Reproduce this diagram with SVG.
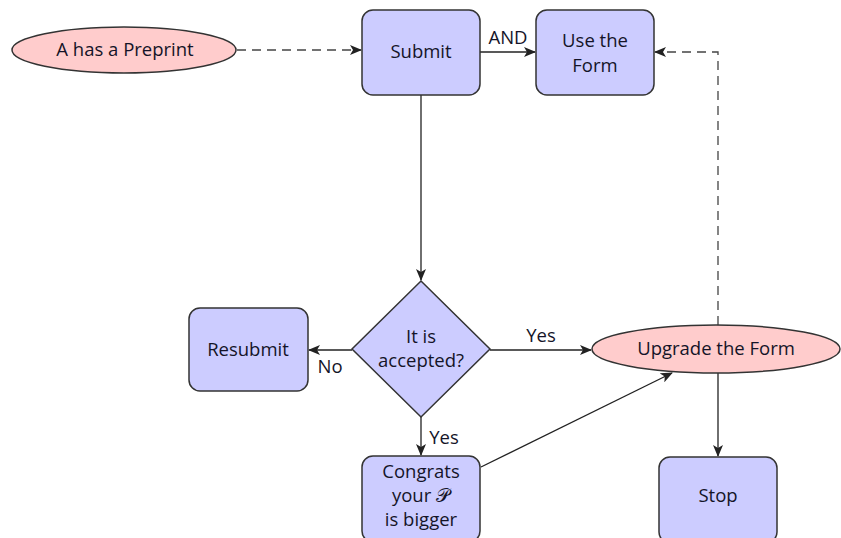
<svg xmlns="http://www.w3.org/2000/svg" width="841" height="538" viewBox="0 0 841 538">
<style>
text{font-family:"Open Sans","Noto Sans","DejaVu Sans",sans-serif;font-size:18.5px;fill:#141428;text-anchor:middle}
.box{fill:#ccccff;stroke:#333;stroke-width:1.5}
.ell{fill:#ffcccc;stroke:#333;stroke-width:1.5}
.c{fill:none;stroke:#222;stroke-width:1.3}
.d{fill:none;stroke:#444;stroke-width:1.3;stroke-dasharray:9 6}
</style>
<defs>
<marker id="a" viewBox="0 0 12 10" refX="11" refY="5" markerWidth="12" markerHeight="10" markerUnits="userSpaceOnUse" orient="auto">
<path d="M0,0 L12,5 L0,10 L3,5 Z" fill="#222"/>
</marker>
</defs>
<g id="connectors">
<path class="d" d="M237,50 H361" marker-end="url(#a)"/>
<path class="c" d="M480,52 H535" marker-end="url(#a)"/>
<path class="c" d="M421,95 V280" marker-end="url(#a)"/>
<path class="c" d="M352,350 H309" marker-end="url(#a)"/>
<path class="c" d="M490,350 H591" marker-end="url(#a)"/>
<path class="c" d="M421,417 V455" marker-end="url(#a)"/>
<path class="c" d="M481,467 L672,373" marker-end="url(#a)"/>
<path class="d" d="M718,325 V52 H655" marker-end="url(#a)"/>
<path class="c" d="M718,373 V456" marker-end="url(#a)"/>
<text x="508" y="44">AND</text>
<text x="330" y="373">No</text>
<text x="541" y="342">Yes</text>
<text x="444" y="444">Yes</text>
</g>
<g id="preprint">
<ellipse class="ell" cx="124" cy="50" rx="112" ry="23"/>
<text x="125" y="56">A has a Preprint</text>
</g>
<g id="submit">
<rect class="box" x="362" y="10" width="118" height="85" rx="11"/>
<text x="421" y="58">Submit</text>
</g>
<g id="useform">
<rect class="box" x="536" y="10" width="118" height="85" rx="11"/>
<text x="595" y="47">Use the</text>
<text x="595" y="72">Form</text>
</g>
<g id="decision">
<path class="box" d="M421,281 L490,349 L421,417 L352,349 Z"/>
<text x="421" y="343">It is</text>
<text x="421" y="367">accepted?</text>
</g>
<g id="resubmit">
<rect class="box" x="189" y="308" width="119" height="83" rx="11"/>
<text x="248" y="356">Resubmit</text>
</g>
<g id="upgrade">
<ellipse class="ell" cx="716" cy="349" rx="124" ry="24"/>
<text x="716" y="355">Upgrade the Form</text>
</g>
<g id="congrats">
<rect class="box" x="362" y="456" width="118" height="86" rx="11"/>
<text x="421" y="478">Congrats</text>
<text x="421" y="502">your 𝒫</text>
<text x="421" y="526">is bigger</text>
</g>
<g id="stop">
<rect class="box" x="659" y="457" width="118" height="86" rx="11"/>
<text x="718" y="502">Stop</text>
</g>
</svg>
